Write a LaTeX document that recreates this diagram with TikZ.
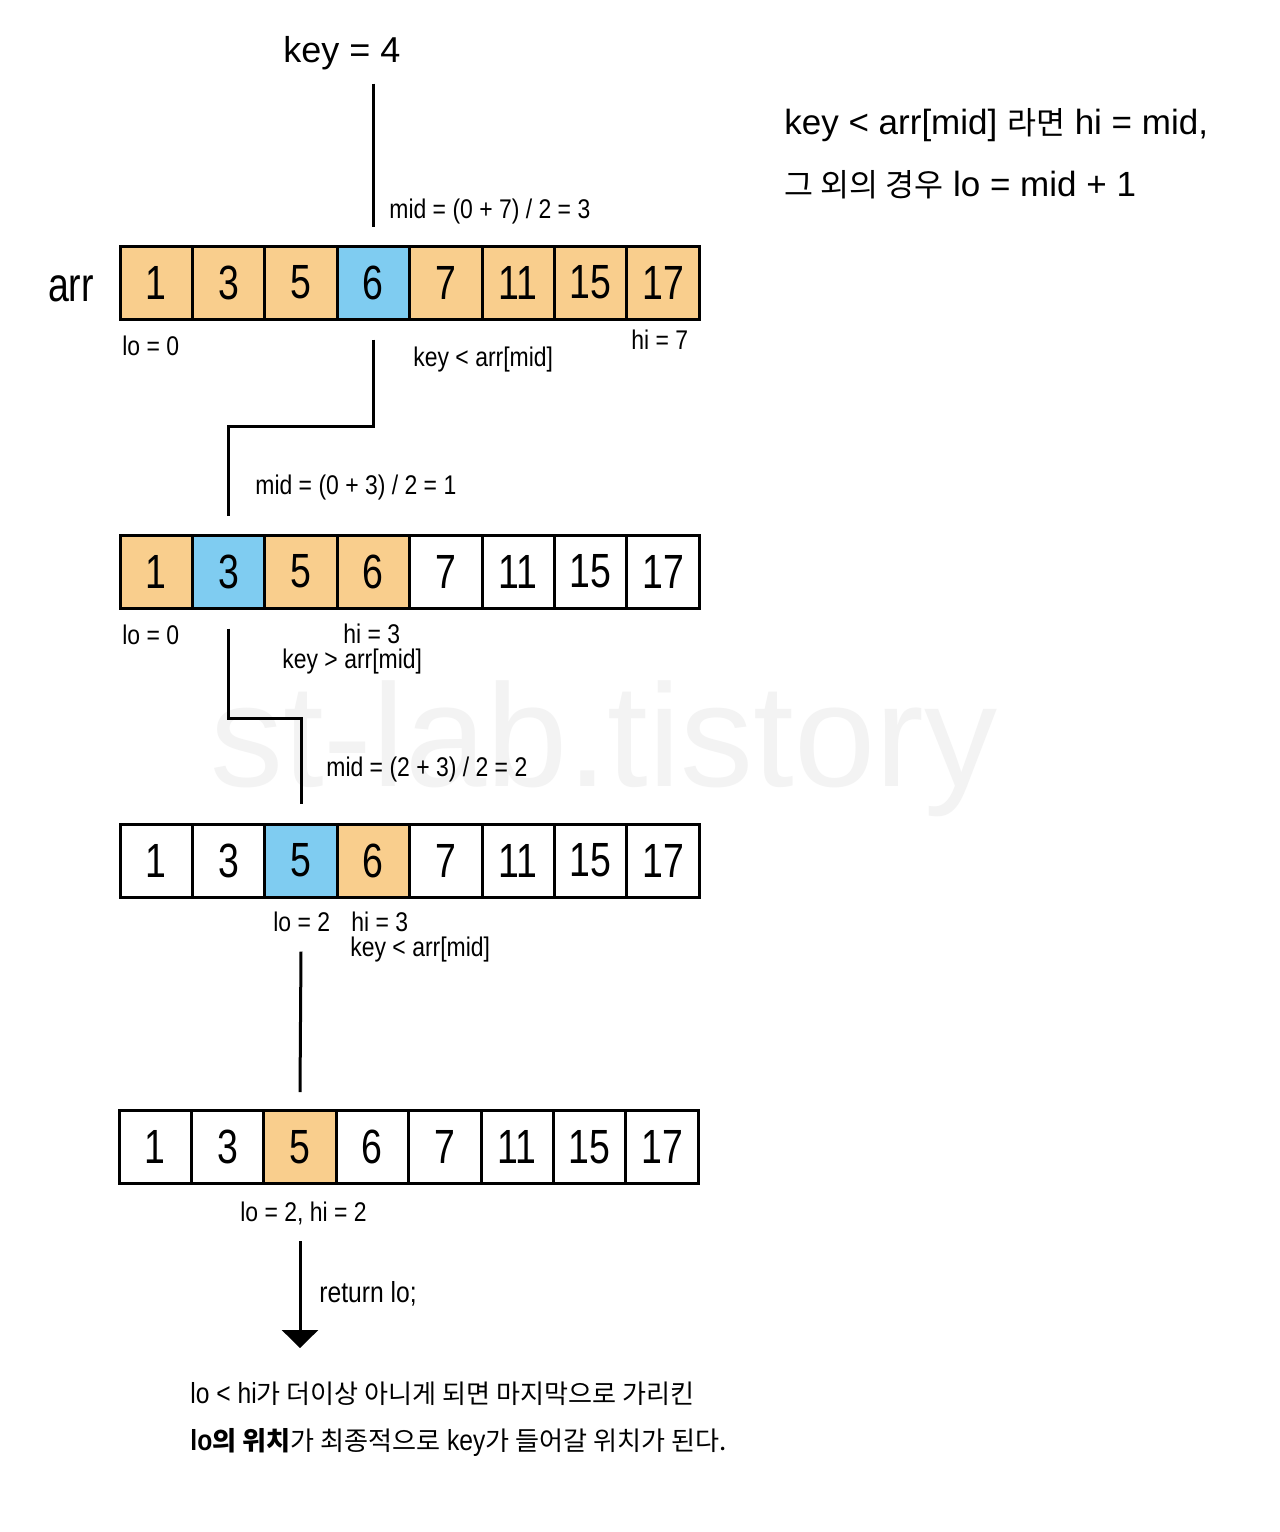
\documentclass[tikz,border=0pt]{standalone}
\usepackage{fontspec}
\setmainfont{Liberation Sans}[FakeStretch=0.85]
\newfontfamily\largo{Liberation Sans}
\newfontfamily\cifre{Liberation Sans}[FakeStretch=0.78]
\newfontfamily\kr{Noto Sans CJK KR}[Scale=0.9]
\usepackage{tikz}
\usetikzlibrary{positioning,arrows.meta}
\definecolor{arancio}{HTML}{F9CE8D}
\definecolor{azzurro}{HTML}{7FCCF1}
\definecolor{filigrana}{HTML}{F3F3F3}
\tikzstyle{cella} = [rectangle,draw=black,line width=1.5pt,fill=white,minimum width=36.2pt,minimum height=36.5pt,inner sep=0pt,font=\cifre\fontsize{24}{28}\selectfont]
\tikzstyle{cellarancio} = [cella,fill=arancio]
\tikzstyle{cellablu} = [cella,fill=azzurro]
\tikzstyle{etichetta} = [anchor=west,inner sep=0pt,text height=0.9em,text depth=0.1em,font=\fontsize{13.5}{16}\selectfont]
\tikzstyle{nota} = [anchor=west,inner sep=0pt,text height=0.9em,text depth=0.1em,font=\largo\fontsize{17.5}{21}\selectfont]
\tikzstyle{notabassa} = [anchor=west,inner sep=0pt,text height=0.9em,text depth=0.1em,font=\fontsize{14.5}{17}\selectfont]
\tikzstyle{linea} = [line width=1.5pt]
\tikzstyle{freccia} = [line width=1.5pt,-{Triangle[width=18pt,length=9pt]}]

\begin{document}
\begin{tikzpicture}[x=0.5pt,y=-0.5pt,node distance=36.2pt]
\useasboundingbox[fill=white] (0,0) rectangle (1280,1532);

\node (filigrana) [anchor=base west,inner sep=0pt,text=filigrana,font=\largo\fontsize{73}{80}\selectfont] at (210,786) {st-lab.tistory};

\node (key) [font=\largo\fontsize{18}{22}\selectfont] at (342,53) {key = 4};
\node (arr) [font=\cifre\fontsize{24}{28}\selectfont] at (71,289) {arr};

\node (regola1) [nota] at (784,126) {key < arr[mid] {\kr 라면} hi = mid,};
\node (regola2) [nota] at (784,188) {{\kr 그 외의 경우} lo = mid + 1};

% primo passo
\node (A_1) [cellarancio] at (156.2,282.5) {1};
\node (A_2) [cellarancio,right of=A_1] {3};
\node (A_3) [cellarancio,right of=A_2] {5};
\node (A_4) [cellablu,right of=A_3] {6};
\node (A_5) [cellarancio,right of=A_4] {7};
\node (A_6) [cellarancio,right of=A_5] {11};
\node (A_7) [cellarancio,right of=A_6] {15};
\node (A_8) [cellarancio,right of=A_7] {17};

% secondo passo
\node (B_1) [cellarancio] at (156.2,571.5) {1};
\node (B_2) [cellablu,right of=B_1] {3};
\node (B_3) [cellarancio,right of=B_2] {5};
\node (B_4) [cellarancio,right of=B_3] {6};
\node (B_5) [cella,right of=B_4] {7};
\node (B_6) [cella,right of=B_5] {11};
\node (B_7) [cella,right of=B_6] {15};
\node (B_8) [cella,right of=B_7] {17};

% terzo passo
\node (C_1) [cella] at (156.2,860.5) {1};
\node (C_2) [cella,right of=C_1] {3};
\node (C_3) [cellablu,right of=C_2] {5};
\node (C_4) [cellarancio,right of=C_3] {6};
\node (C_5) [cella,right of=C_4] {7};
\node (C_6) [cella,right of=C_5] {11};
\node (C_7) [cella,right of=C_6] {15};
\node (C_8) [cella,right of=C_7] {17};

% fine
\node (D_1) [cella] at (155.2,1147) {1};
\node (D_2) [cella,right of=D_1] {3};
\node (D_3) [cellarancio,right of=D_2] {5};
\node (D_4) [cella,right of=D_3] {6};
\node (D_5) [cella,right of=D_4] {7};
\node (D_6) [cella,right of=D_5] {11};
\node (D_7) [cella,right of=D_6] {15};
\node (D_8) [cella,right of=D_7] {17};

\node (mid1)  [etichetta] at (389,210) {mid = (0 + 7) / 2 = 3};
\node (lo1)   [etichetta] at (122,347) {lo = 0};
\node (cond1) [etichetta] at (413,358) {key < arr[mid]};
\node (hi1)   [etichetta] at (631,341) {hi = 7};
\node (mid2)  [etichetta] at (255,486) {mid = (0 + 3) / 2 = 1};
\node (lo2)   [etichetta] at (122,636) {lo = 0};
\node (hi2)   [etichetta] at (343,635) {hi = 3};
\node (cond2) [etichetta] at (282,660) {key > arr[mid]};
\node (mid3)  [etichetta] at (326,768) {mid = (2 + 3) / 2 = 2};
\node (lo3)   [etichetta] at (273,923) {lo = 2};
\node (hi3)   [etichetta] at (351,923) {hi = 3};
\node (cond3) [etichetta] at (350,948) {key < arr[mid]};
\node (lohi4) [etichetta] at (240,1213) {lo = 2, hi = 2};
\node (ritorno) [etichetta,font=\fontsize{14.5}{17}\selectfont] at (319,1294) {return lo;};

\node (nota1) [notabassa] at (190,1395) {lo < hi{\kr 가 더이상 아니게 되면 마지막으로 가리킨}};
\node (nota2) [notabassa] at (190,1442) {{\bfseries lo}{\kr\bfseries 의 위치}{\kr 가 최종적으로} key{\kr 가 들어갈 위치가 된다.}};

\coordinate (inizio) at ([yshift=80.5pt]A_4.north);
\coordinate (fine) at ([yshift=-81.5pt]D_3.south);

\draw[linea] (inizio) -- ([yshift=9pt]A_4.north);
\draw[linea] ([yshift=-9.5pt]A_4.south) -- ++(0,87) -| ([yshift=9pt]B_2.north);
\draw[linea] ([yshift=-9.5pt]B_2.south) -- ++(0,90) -| ([yshift=9.5pt]C_3.north);
\draw[linea] ([yshift=-26.5pt]C_3.south) -- ([yshift=8.5pt]D_3.north);
\draw[freccia] ([yshift=-28pt]D_3.south) -- (fine);

\end{tikzpicture}
\end{document}
